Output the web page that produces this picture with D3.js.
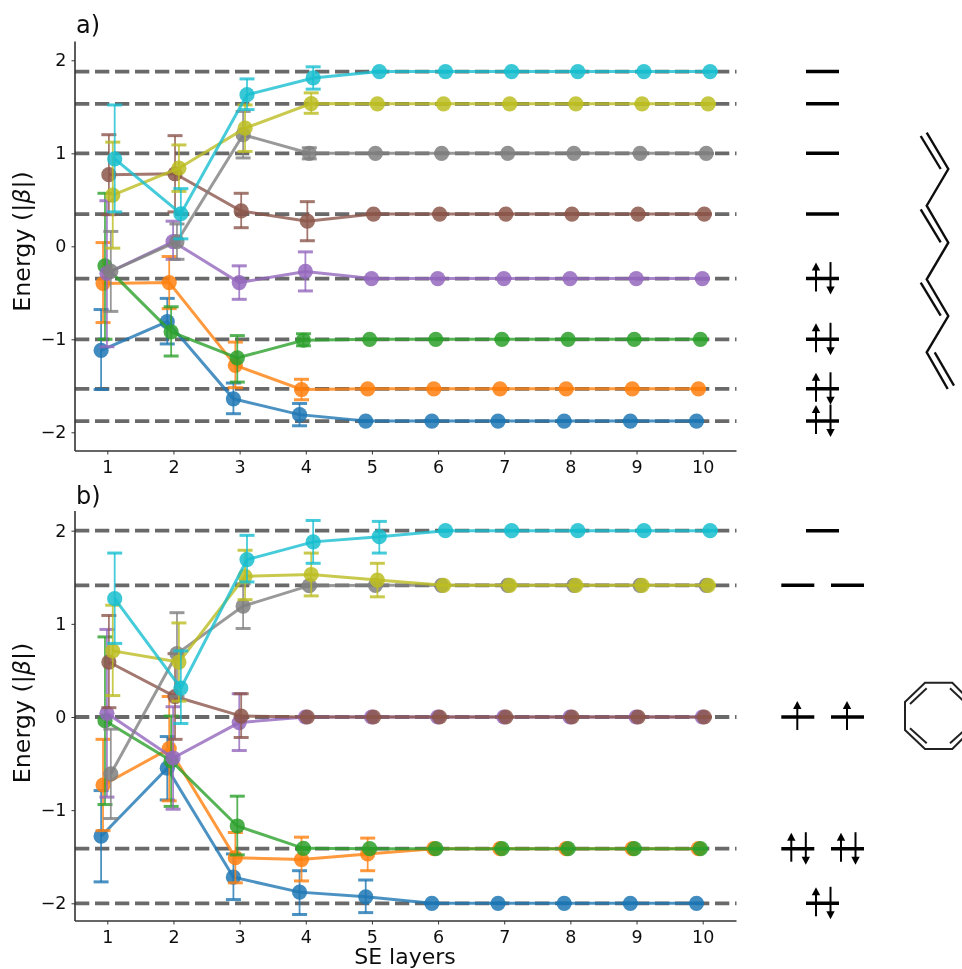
<!DOCTYPE html>
<html><head><meta charset="utf-8">
<script src="https://cdn.jsdelivr.net/npm/d3@7"></script>
<style>html,body{margin:0;padding:0;background:#fff}svg{display:block}text{font-family:"DejaVu Sans",sans-serif;fill:#111}</style>
</head><body><svg id="c" width="962" height="969"></svg>
<script>
const layers=[1,2,3,4,5,6,7,8,9,10];
const colors=["#1f77b4","#ff7f0e","#2ca02c","#9467bd","#8c564b","#7f7f7f","#bcbd22","#17becf"];
const yTicks=[-2,-1,0,1,2];

// Panel a: octatetraene
const aExact=[-1.879,-1.532,-1,-0.347,0.347,1,1.532,1.879];
const aMean=[
 [-1.12,-0.81,-1.64,-1.81,-1.879,-1.879,-1.879,-1.879,-1.879,-1.879],
 [-0.40,-0.39,-1.28,-1.54,-1.532,-1.532,-1.532,-1.532,-1.532,-1.532],
 [-0.21,-0.92,-1.20,-1.01,-1,-1,-1,-1,-1,-1],
 [-0.29,0.05,-0.39,-0.27,-0.347,-0.347,-0.347,-0.347,-0.347,-0.347],
 [0.77,0.78,0.38,0.27,0.347,0.347,0.347,0.347,0.347,0.347],
 [-0.27,0.05,1.20,1.00,1,1,1,1,1,1],
 [0.55,0.84,1.27,1.535,1.532,1.532,1.532,1.532,1.532,1.532],
 [0.94,0.35,1.63,1.81,1.879,1.879,1.879,1.879,1.879,1.879]];
const aHigh=[
 [-0.68,-0.56,-1.47,-1.69],[0.04,-0.11,-1.03,-1.43],[0.57,-0.65,-0.96,-0.94],[0.49,0.27,-0.21,-0.06],
 [1.20,1.19,0.57,0.48],[0.16,0.24,1.45,1.06],[1.12,1.09,1.52,1.65],[1.52,0.62,1.80,1.93]];
const aLow=[
 [-1.54,-1.05,-1.80,-1.93],[-0.82,-0.67,-1.52,-1.65],[-1.00,-1.18,-1.46,-1.07],[-1.08,-0.14,-0.57,-0.48],
 [0.34,0.37,0.20,0.06],[-0.70,-0.14,0.95,0.94],[-0.02,0.59,1.02,1.43],[0.37,0.08,1.47,1.69]];

// Panel b: cyclooctatetraene
const bExact=[-2,-1.414,0,1.414,2];
const bMean=[
 [-1.28,-0.55,-1.72,-1.88,-1.93,-2,-2,-2,-2,-2],
 [-0.73,-0.34,-1.51,-1.53,-1.47,-1.414,-1.414,-1.414,-1.414,-1.414],
 [-0.04,-0.47,-1.17,-1.41,-1.414,-1.414,-1.414,-1.414,-1.414,-1.414],
 [0.04,-0.44,-0.06,0,0,0,0,0,0,0],
 [0.59,0.22,0.01,0,0,0,0,0,0,0],
 [-0.61,0.68,1.19,1.41,1.414,1.414,1.414,1.414,1.414,1.414],
 [0.71,0.59,1.51,1.53,1.47,1.414,1.414,1.414,1.414,1.414],
 [1.27,0.31,1.69,1.88,1.936,2,2,2,2,2]];
const bHigh=[
 [-0.79,-0.21,-1.47,-1.65,-1.75],[-0.24,0.22,-1.24,-1.29,-1.30],[0.86,0.01,-0.85,-1.40,-1.414],[0.94,0.11,0.25,0,0],
 [1.09,0.68,0.25,0,0],[-0.13,1.12,1.43,1.42,1.414],[1.20,1.01,1.79,1.76,1.65],[1.76,0.71,1.95,2.11,2.10]];
const bLow=[
 [-1.77,-0.89,-1.96,-2.12,-2.10],[-1.22,-0.90,-1.78,-1.76,-1.65],[-0.94,-0.96,-1.48,-1.42,-1.414],[-0.86,-0.99,-0.36,0,0],
 [0.10,-0.24,-0.22,0,0],[-1.09,0.22,0.95,1.40,1.414],[0.23,0.17,1.26,1.30,1.29],[0.79,-0.07,1.45,1.65,1.76]];

// Orbital occupation diagrams: [level, number of slots, electrons per slot]
const aLevels=[[1.879,1,0],[1.532,1,0],[1,1,0],[0.347,1,0],[-0.347,1,2],[-1,1,2],[-1.532,1,2],[-1.879,1,2]];
const bLevels=[[2,1,0],[1.414,2,0],[0,2,1],[-1.414,2,2],[-2,1,2]];

const root=d3.select("#c");
root.append("defs").append("filter").attr("id","soft").attr("x",0).attr("y",0).attr("width","100%").attr("height","100%")
  .attr("filterUnits","userSpaceOnUse").append("feGaussianBlur").attr("stdDeviation",0.45);
const svg=root.append("g").attr("filter","url(#soft)");
svg.append("rect").attr("width",962).attr("height",969).attr("fill","#fff");
const xScale=d3.scaleLinear().domain([1,10]).range([107.3,702.7]);
const dodge=d3.scaleLinear().domain([0,7]).range([-6.2,7.4]);

function panel(o){
  const y=d3.scaleLinear().domain([-2,2]).range([o.yNeg2,o.yPos2]);
  const g=svg.append("g");
  // exact-level dashed lines
  g.selectAll("line.h").data(o.exact).join("line").attr("class","h")
    .attr("x1",75).attr("x2",736.5).attr("y1",d=>y(d)).attr("y2",d=>y(d))
    .attr("stroke","#696969").attr("stroke-width",3.8).attr("stroke-dasharray","14.3 5.7");
  o.mean.forEach((m,i)=>{
    const c=colors[i], s=g.append("g");
    const px=k=>xScale(layers[k])+dodge(i);
    const pts=m.map((v,k)=>({k,v,hi:o.high[i][k]??v,lo:o.low[i][k]??v}));
    s.append("path").attr("d",d3.line().x(d=>px(d.k)).y(d=>y(d.v))(pts))
      .attr("fill","none").attr("stroke",c).attr("stroke-width",3).attr("stroke-opacity",.8);
    s.selectAll("line.e").data(pts).join("line").attr("class","e")
      .attr("x1",d=>px(d.k)).attr("x2",d=>px(d.k)).attr("y1",d=>y(d.lo)).attr("y2",d=>y(d.hi))
      .attr("stroke",c).attr("stroke-width",1.8).attr("stroke-opacity",.8);
    ["hi","lo"].forEach(f=>{
      s.selectAll("line."+f).data(pts).join("line").attr("class",f)
       .attr("x1",d=>px(d.k)-7.5).attr("x2",d=>px(d.k)+7.5).attr("y1",d=>y(d[f])).attr("y2",d=>y(d[f]))
       .attr("stroke",c).attr("stroke-width",3).attr("stroke-opacity",.8);
    });
    s.selectAll("circle").data(pts).join("circle")
      .attr("cx",d=>px(d.k)).attr("cy",d=>y(d.v)).attr("r",7.6)
      .attr("fill",c).attr("fill-opacity",.85);
  });
  // axes
  const ax=g.append("g").attr("transform",`translate(0,${o.bottom})`)
    .call(d3.axisBottom(xScale).tickValues(layers).tickFormat(d3.format("d")).tickSize(3.5).tickPadding(6));
  ax.select(".domain").attr("d",`M75,0H736.5`);
  const ay=g.append("g").attr("transform","translate(75,0)")
    .call(d3.axisLeft(y).tickValues(yTicks).tickFormat(d3.format("d")).tickSize(3.5).tickPadding(5));
  ay.select(".domain").attr("d",`M0,${o.top}V${o.bottom}`);
  g.selectAll(".domain").attr("stroke","#333").attr("stroke-width",1.6);
  g.selectAll(".tick line").attr("stroke","#333").attr("stroke-width",1);
  g.selectAll(".tick text").attr("font-size",17.5).attr("font-family","DejaVu Sans");
  g.append("text").attr("x",76).attr("y",o.titleY).attr("font-size",24).text(o.title);
  const yl=g.append("text").attr("transform",`translate(30,${o.labelY}) rotate(-90)`).attr("text-anchor","middle").attr("font-size",23.8);
  yl.append("tspan").text("Energy (|");
  yl.append("tspan").attr("font-style","italic").text("β");
  yl.append("tspan").text("|)");
  // orbital levels
  const lv=g.append("g").attr("stroke","#000").attr("fill","#000");
  o.levels.forEach(([e,slots,el])=>{
    const yy=y(e);
    const xs=slots===1?[806]:[781.3,831];
    xs.forEach(x0=>{
      lv.append("line").attr("x1",x0).attr("x2",x0+33).attr("y1",yy).attr("y2",yy).attr("stroke-width",3.6);
      const arrow=(x,up)=>{
        const tip=up?yy-16:yy+16, base=up?yy+13:yy-16.5, dir=up?1:-1;
        lv.append("line").attr("x1",x).attr("x2",x).attr("y1",base).attr("y2",tip+dir*5).attr("stroke-width",2);
        lv.append("path").attr("stroke","none").attr("d",`M${x},${tip}L${x-4.2},${tip+dir*8}L${x+4.2},${tip+dir*8}Z`);
      };
      if(el===1) arrow(x0+16,true);
      if(el===2){arrow(x0+10,true);arrow(x0+24.5,false);}
    });
  });
}

panel({exact:aExact,mean:aMean,high:aHigh,low:aLow,levels:aLevels,yPos2:60.3,yNeg2:432.3,top:41.5,bottom:451,title:"a)",titleY:33,labelY:241.5});
panel({exact:bExact,mean:bMean,high:bHigh,low:bLow,levels:bLevels,yPos2:530.7,yNeg2:903.3,top:511,bottom:921,title:"b)",titleY:504,labelY:713});

svg.append("text").attr("x",405).attr("y",963.5).attr("text-anchor","middle").attr("font-size",22).text("SE layers");

// Molecule sketches
const mol=svg.append("g").attr("fill","none").attr("stroke","#111").attr("stroke-width",2.4).attr("stroke-linejoin","miter");
const chain=[[926.7,132.7],[948.3,169],[926.7,205.7],[948.3,242.7],[926.7,279.3],[948.3,316],[926.7,352.3],[947.7,389]];
const chainDouble=[[[920.7,136],[940.7,169]],[[920.7,209.3],[940.7,242.3]],[[920.7,282.7],[940.7,315.7]],[[934.7,352.3],[954,385.7]]];
const ring=[[925,682.7],[952.3,682.7],[971.3,702],[971.3,730],[952.3,749],[925,749],[905,730],[905,702]];
const ringDouble=[[[910,704],[926.7,688.3]],[[910,728.3],[926.7,743.3]],[[950,688.3],[966.7,704]],[[950,743.3],[966.7,728.3]]];
mol.append("path").attr("d",d3.line()(chain));
mol.append("path").attr("d",d3.line()(ring)+"Z").attr("stroke-width",2).attr("stroke","#222");
chainDouble.forEach(s=>mol.append("path").attr("d",d3.line()(s)));
ringDouble.forEach(s=>mol.append("path").attr("d",d3.line()(s)).attr("stroke-width",2).attr("stroke","#222"));
</script></body></html>
